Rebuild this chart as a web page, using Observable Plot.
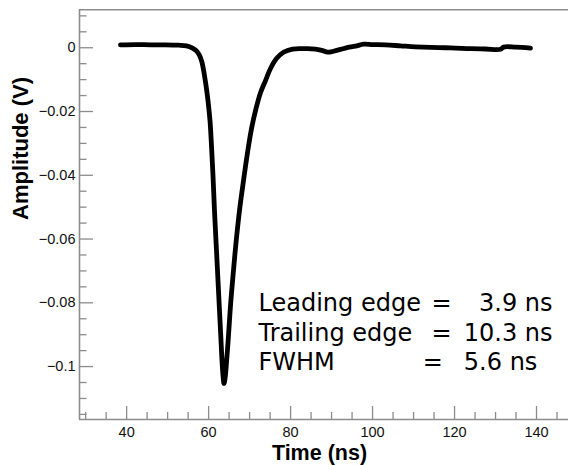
<!DOCTYPE html>
<html><head><meta charset="utf-8">
<script src="https://cdn.jsdelivr.net/npm/d3@7"></script>
<script src="https://cdn.jsdelivr.net/npm/@observablehq/plot@0.6"></script>
<style>html,body{margin:0;padding:0;background:#fff}#chart svg{display:block}</style>
</head><body><div id="chart"></div>
<script>
// Waveform samples
const timeNs = [38.50,42.16,45.82,49.48,52.65,54.60,56.07,57.04,57.78,58.39,58.87,59.36,59.85,60.34,60.70,61.07,61.43,61.92,62.41,62.90,63.26,63.51,63.75,64.00,64.36,64.85,65.34,65.95,66.68,67.53,68.51,69.49,70.46,71.56,72.66,73.88,75.10,76.56,78.27,80.46,83.63,86.07,87.78,89.00,90.47,93.39,95.83,97.79,99.98,103.15,106.81,110.47,114.13,117.79,120.23,123.89,127.55,131.21,131.94,134.87,138.53];
const amplitudeV = [0.0009,0.0010,0.0009,0.0009,0.0008,0.0006,-0.0001,-0.0010,-0.0024,-0.0046,-0.0078,-0.0118,-0.0166,-0.0229,-0.0307,-0.0401,-0.0511,-0.0636,-0.0762,-0.0887,-0.0981,-0.1028,-0.1053,-0.1038,-0.0988,-0.0903,-0.0809,-0.0715,-0.0612,-0.0511,-0.0417,-0.0329,-0.0254,-0.0191,-0.0141,-0.0103,-0.0065,-0.0034,-0.0014,-0.0004,-0.0003,-0.0004,-0.0009,-0.0014,-0.0011,-0.0001,0.0005,0.0011,0.0010,0.0009,0.0006,0.0003,0.0001,0.0000,-0.0001,-0.0003,-0.0004,-0.0005,0.0002,0.0002,-0.0001];

const xMajorTicks = [40, 60, 80, 100, 120, 140];
const xMinorTicks = [30, 35, 45, 50, 55, 65, 70, 75, 85, 90, 95, 105, 110, 115, 125, 130, 135, 145];
const yMajorTicks = [0, -0.02, -0.04, -0.06, -0.08, -0.1];
const yTickLabels = ["0", "\u22120.02", "\u22120.04", "\u22120.06", "\u22120.08", "\u22120.1"];
const yMinorTicks = [0.01, 0.005, -0.005, -0.01, -0.015, -0.025, -0.03, -0.035, -0.045, -0.05, -0.055, -0.065, -0.07, -0.075, -0.085, -0.09, -0.095, -0.105, -0.11, -0.115];

const annotationLabels = ["Leading edge", "Trailing edge", "FWHM"];
const annotationValues = ["3.9 ns", "10.3 ns", "5.6 ns"];
const xTitle = "Time (ns)";
const yTitle = "Amplitude (V)";

const waveform = timeNs.map((t, i) => ({t, v: amplitudeV[i]}));
const xDomain = [28.5, 147.8];
const yDomain = [-0.1166, 0.0119];

// annotation layout (baseline positions in data space)
const annY = [-0.0827, -0.0921, -0.1012];
const eqX = [116.8, 116.8, 114.7];
const valX = [143.9, 143.9, 140.2];
const ann = annotationLabels.map((label, i) => ({label, value: annotationValues[i], y: annY[i], eqx: eqX[i], vx: valX[i]}));

const axisGrey = "#8c8c8c";
const yLabelOf = (d) => yTickLabels[yMajorTicks.indexOf(d)];

const chart = Plot.plot({
  width: 568,
  height: 465,
  marginLeft: 79,
  marginRight: 0,
  marginTop: 9.3,
  marginBottom: 46,
  x: {domain: xDomain},
  y: {domain: yDomain},
  style: {fontFamily: "'Liberation Sans', Arial, Helvetica, sans-serif", fontSize: "14.5px", color: "#000", background: "#fff"},
  marks: [
    // frame lines (top, left, bottom)
    Plot.ruleY([yDomain[1]], {stroke: axisGrey, strokeWidth: 1.6}),
    Plot.ruleY([yDomain[0]], {stroke: axisGrey, strokeWidth: 1.6}),
    Plot.ruleX([xDomain[0]], {stroke: axisGrey, strokeWidth: 1.6}),
    // y axis: inward ticks, then labels
    Plot.axisY(yMajorTicks, {anchor: "left", tickSize: -14, tickFormat: () => "", stroke: axisGrey, strokeWidth: 1.3, label: null}),
    Plot.axisY(yMinorTicks, {anchor: "left", tickSize: -7.5, tickFormat: () => "", stroke: axisGrey, strokeWidth: 1.3, label: null}),
    Plot.axisY(yMajorTicks, {anchor: "left", tickSize: 0, tickPadding: 4, tickFormat: yLabelOf, fill: "#111", label: null, fontSize: 14.5}),
    // x axis
    Plot.axisX(xMajorTicks, {anchor: "bottom", tickSize: -13, tickFormat: () => "", stroke: axisGrey, strokeWidth: 1.3, label: null}),
    Plot.axisX(xMinorTicks, {anchor: "bottom", tickSize: -7, tickFormat: () => "", stroke: axisGrey, strokeWidth: 1.3, label: null}),
    Plot.axisX(xMajorTicks, {anchor: "bottom", tickSize: 0, tickPadding: 7, fill: "#111", label: null, fontSize: 14.5}),
    // titles
    Plot.text([xTitle], {frameAnchor: "bottom", dx: -4.5, dy: 40, lineAnchor: "bottom", fontWeight: "bold", fontSize: 21.5, fill: "#000"}),
    Plot.text([yTitle], {frameAnchor: "left", rotate: -90, dx: -52, dy: 5.3, lineAnchor: "bottom", fontWeight: "bold", fontSize: 22, fill: "#000"}),
    // waveform
    Plot.line(waveform, {x: "t", y: "v", stroke: "#000", strokeWidth: 4.8, strokeLinejoin: "round", strokeLinecap: "round", curve: "catmull-rom"}),
    // annotation
    Plot.text(ann, {x: () => 72.17, y: "y", text: "label", textAnchor: "start", lineAnchor: "bottom", fontFamily: "'DejaVu Sans', sans-serif", fontSize: 24, fill: "#000"}),
    Plot.text(ann, {x: "eqx", y: "y", text: () => "=", textAnchor: "middle", lineAnchor: "bottom", fontFamily: "'DejaVu Sans', sans-serif", fontSize: 24, fill: "#000"}),
    Plot.text(ann, {x: "vx", y: "y", text: "value", textAnchor: "end", lineAnchor: "bottom", fontFamily: "'DejaVu Sans', sans-serif", fontSize: 24, fill: "#000"})
  ]
});
document.getElementById("chart").appendChild(chart);
</script>
</body></html>
